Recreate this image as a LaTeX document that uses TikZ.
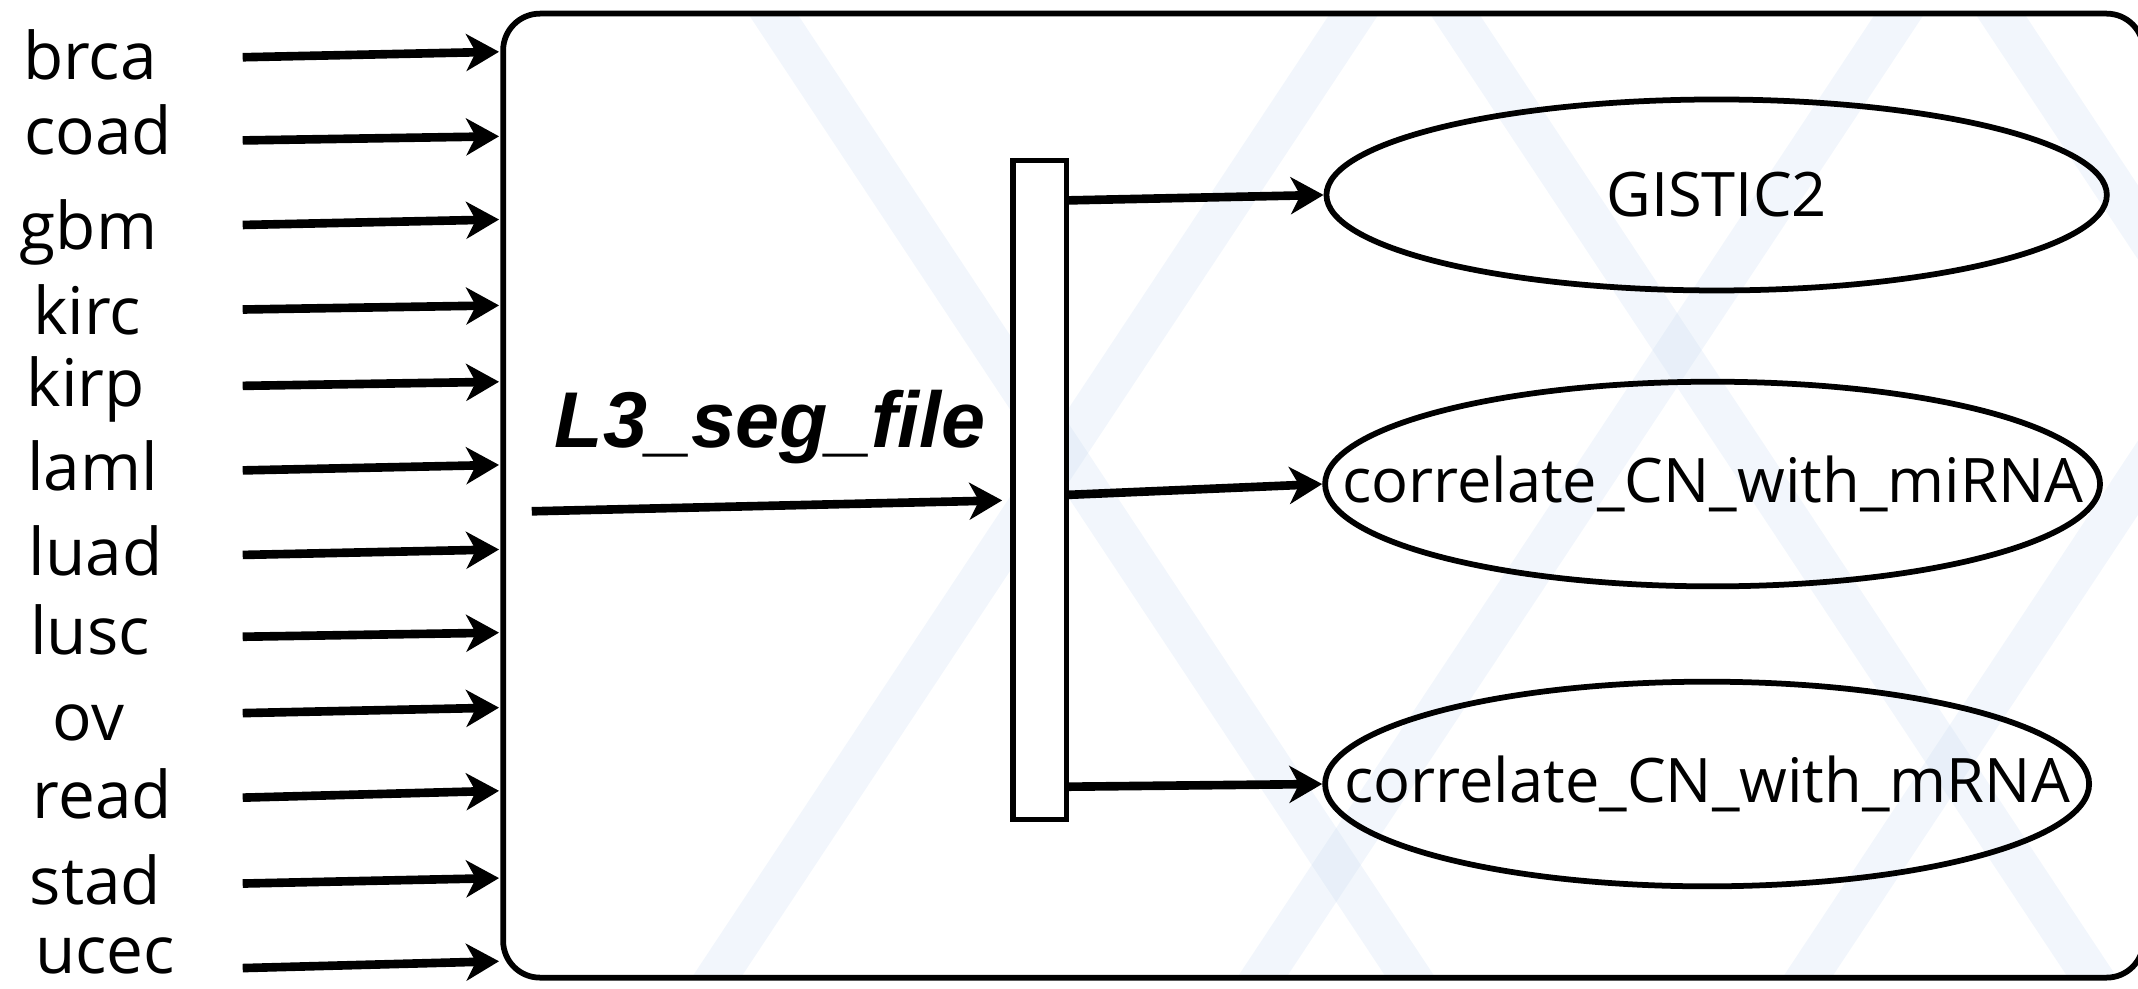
\documentclass[tikz,border=0pt]{standalone}
\usepackage{fontspec}
\setmainfont{Open Sans}
\newfontfamily\segfont{Liberation Sans}
\usetikzlibrary{positioning,arrows.meta,shapes.geometric}

\definecolor{bandblue}{RGB}{190,212,238}

\begin{document}
\begin{tikzpicture}[
            x=0.01cm, y=-0.01cm,
            arrow/.style={-{Stealth[length=0.24cm, width=0.27cm, inset=0.07cm]}, line width=1.8pt},
            tumor/.style={font=\fontsize{13.7}{16}\selectfont, inner sep=0pt, anchor=base},
            tool/.style={ellipse, draw, line width=1.2pt, inner sep=0pt, font=\fontsize{12.8}{15}\selectfont},
            band/.style={line width=0.3cm, draw=bandblue, opacity=0.2}
        ]
        \useasboundingbox (0,0) rectangle (1568,725);
        % faint background lattice
        \begin{scope}
            \clip[rounded corners=0.27cm] (369,10) rectangle (1572,717);
            \draw[band] (560,0) -- (1040,725);
            \draw[band] (1060,0) -- (1540,725);
            \draw[band] (1460,0) -- (1940,725);
            \draw[band] (1000,0) -- (520,725);
            \draw[band] (1400,0) -- (920,725);
            \draw[band] (1800,0) -- (1320,725);
            \draw[band] (2200,0) -- (1720,725);
        \end{scope}
        \draw[line width=1.2pt, rounded corners=0.27cm] (369,10) rectangle (1572,717);
        % tumour types
        \node[tumor] (brca) at (66,58) {brca};
        \node[tumor] (coad) at (72,113) {coad};
        \node[tumor] (gbm) at (65,183) {gbm};
        \node[tumor] (kirc) at (64,245) {kirc};
        \node[tumor] (kirp) at (63,298) {kirp};
        \node[tumor] (laml) at (68,360) {laml};
        \node[tumor] (luad) at (70,422) {luad};
        \node[tumor] (lusc) at (66,480) {lusc};
        \node[tumor] (ov) at (65,543) {ov};
        \node[tumor] (read) at (75,600) {read};
        \node[tumor] (stad) at (70,663) {stad};
        \node[tumor] (ucec) at (77,714) {ucec};
        \coordinate (brca-s) at (178,42);  \coordinate (brca-e) at (366,38);
        \coordinate (coad-s) at (178,103); \coordinate (coad-e) at (366,100);
        \coordinate (gbm-s) at (178,165);  \coordinate (gbm-e) at (366,161);
        \coordinate (kirc-s) at (178,227); \coordinate (kirc-e) at (366,224);
        \coordinate (kirp-s) at (178,283); \coordinate (kirp-e) at (366,280);
        \coordinate (laml-s) at (178,345); \coordinate (laml-e) at (366,341);
        \coordinate (luad-s) at (178,407); \coordinate (luad-e) at (366,403);
        \coordinate (lusc-s) at (178,467); \coordinate (lusc-e) at (366,464);
        \coordinate (ov-s) at (178,523);   \coordinate (ov-e) at (366,519);
        \coordinate (read-s) at (178,585); \coordinate (read-e) at (366,580);
        \coordinate (stad-s) at (178,648); \coordinate (stad-e) at (366,644);
        \coordinate (ucec-s) at (178,710); \coordinate (ucec-e) at (366,705);
        \draw[arrow] (brca-s) -- (brca-e);
        \draw[arrow] (coad-s) -- (coad-e);
        \draw[arrow] (gbm-s) -- (gbm-e);
        \draw[arrow] (kirc-s) -- (kirc-e);
        \draw[arrow] (kirp-s) -- (kirp-e);
        \draw[arrow] (laml-s) -- (laml-e);
        \draw[arrow] (luad-s) -- (luad-e);
        \draw[arrow] (lusc-s) -- (lusc-e);
        \draw[arrow] (ov-s) -- (ov-e);
        \draw[arrow] (read-s) -- (read-e);
        \draw[arrow] (stad-s) -- (stad-e);
        \draw[arrow] (ucec-s) -- (ucec-e);
        % segment file into the splitter
        \node[draw, fill=white, line width=1.1pt, inner sep=0pt, minimum width=0.39cm, minimum height=4.83cm] (bar) at (762.5,359.5) {};
        \node[font=\segfont\fontsize{16.5}{19}\selectfont\bfseries\itshape, inner sep=0pt, anchor=base] (seg) at (565,328) {L3\_seg\_file};
        \coordinate (seg-s) at (390,375);
        \coordinate (seg-e) at (735,367);
        \draw[arrow] (seg-s) -- (seg-e);
        % downstream tools
        \node[tool, minimum width=5.72cm, minimum height=1.4cm] (gistic) at (1259,143) {\makebox[0pt]{GISTIC2}};
        \node[tool, minimum width=5.68cm, minimum height=1.5cm] (mirna) at (1256,355) {\makebox[0pt]{correlate\_CN\_with\_miRNA}};
        \node[tool, minimum width=5.60cm, minimum height=1.5cm] (mrna) at (1252,575) {\makebox[0pt]{correlate\_CN\_with\_mRNA}};
        \coordinate (bar-1) at (782,147);
        \coordinate (bar-2) at (782,363);
        \coordinate (bar-3) at (782,577);
        \draw[arrow] (bar-1) -- (gistic.west);
        \draw[arrow] (bar-2) -- (mirna.west);
        \draw[arrow] (bar-3) -- (mrna.west);
        \end{tikzpicture}
\end{document}
